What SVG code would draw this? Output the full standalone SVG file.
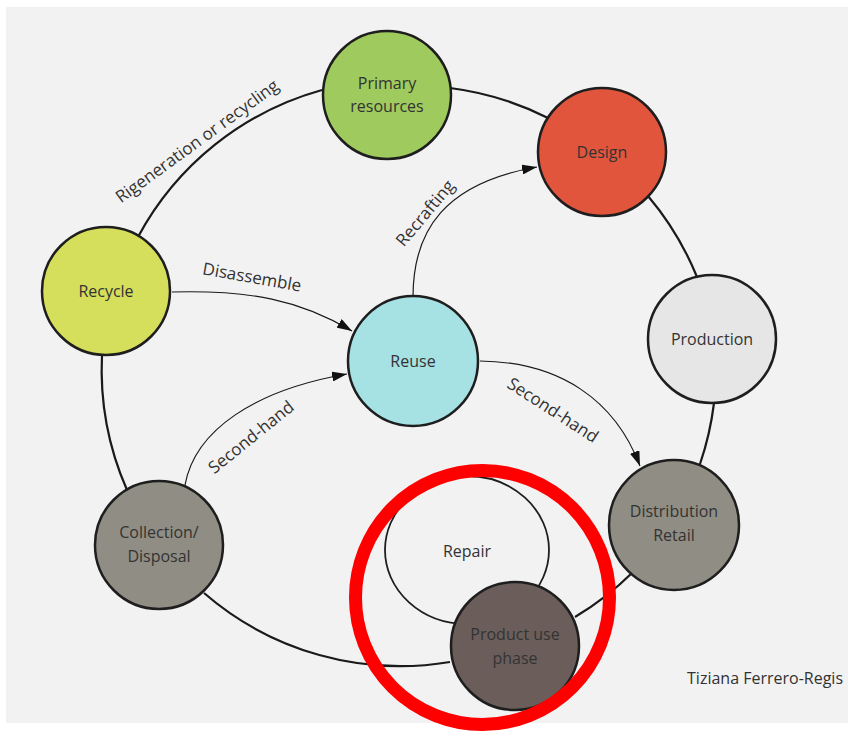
<svg xmlns="http://www.w3.org/2000/svg" width="848" height="736" viewBox="0 0 848 736">
<style>
.node{stroke:#1e1e1e;stroke-width:2.5}
.lbl{font-family:"Open Sans","Liberation Sans",sans-serif;font-size:16px;fill:#333;text-anchor:middle}
.elbl{font-family:"Open Sans","Liberation Sans",sans-serif;font-size:17px;fill:#333;text-anchor:middle}
.cyc{fill:none;stroke:#1a1a1a;stroke-width:2.2}
.arr{fill:none;stroke:#1a1a1a;stroke-width:1.2;marker-end:url(#ah)}
</style>
<defs>
<marker id="ah" markerUnits="userSpaceOnUse" markerWidth="16" markerHeight="10" refX="15" refY="5" orient="auto">
<path d="M0,0 L15,5 L0,10 z" fill="#111"/>
</marker>
</defs>
<rect width="848" height="736" fill="#ffffff"/>
<rect x="6" y="7" width="842" height="716" fill="#f2f2f2"/>
<g id="connectors">
<path class="cyc" d="M138,237 A300,300 0 0 1 322,90"/>
<path class="cyc" d="M450,88 A300,300 0 0 1 548,118"/>
<path class="cyc" d="M648,196 A300,300 0 0 1 697,277"/>
<path class="cyc" d="M714,403 A300,300 0 0 1 700,464"/>
<path class="cyc" d="M633,572 A300,300 0 0 1 575,617"/>
<path class="cyc" d="M450,662 A300,300 0 0 1 204,593"/>
<path class="cyc" d="M127,490 A300,300 0 0 1 102,355"/>
<path class="arr" d="M172,292 C250,290 300,300 352,331"/>
<path class="arr" d="M185,485 C195,430 255,390 347,374"/>
<path class="arr" d="M413,297 C413,230 445,183 537,167"/>
<path class="arr" d="M480,361 C560,362 615,400 640,466"/>
<text class="elbl" transform="translate(197,141) rotate(-36)" y="6">Rigeneration or recycling</text>
<text class="elbl" transform="translate(252,277) rotate(10)" y="6">Disassemble</text>
<text class="elbl" transform="translate(251,437) rotate(-39)" y="6">Second-hand</text>
<text class="elbl" transform="translate(425,213) rotate(-50)" y="6">Recrafting</text>
<text class="elbl" transform="translate(553,410) rotate(33)" y="6">Second-hand</text>
</g>
<g id="repair">
<ellipse cx="467" cy="550" rx="82" ry="74" fill="#f2f2f2" stroke="#1e1e1e" stroke-width="1.8"/>
<text class="lbl" x="467" y="557">Repair</text>
</g>
<g id="primary">
<circle class="node" cx="387" cy="95" r="64" fill="#9fca5e"/>
<text class="lbl" x="387" y="89">Primary</text>
<text class="lbl" x="387" y="112">resources</text>
</g>
<g id="design">
<circle class="node" cx="602" cy="152" r="64" fill="#e1553d"/>
<text class="lbl" x="602" y="158">Design</text>
</g>
<g id="recycle">
<circle class="node" cx="106" cy="291" r="64" fill="#d6df5b"/>
<text class="lbl" x="106" y="297">Recycle</text>
</g>
<g id="reuse">
<circle class="node" cx="413" cy="361" r="65" fill="#a6e1e3"/>
<text class="lbl" x="413" y="367">Reuse</text>
</g>
<g id="production">
<circle class="node" cx="712" cy="339" r="64" fill="#e6e6e6"/>
<text class="lbl" x="712" y="345">Production</text>
</g>
<g id="distribution">
<circle class="node" cx="674" cy="525" r="65" fill="#908d84"/>
<text class="lbl" x="674" y="517">Distribution</text>
<text class="lbl" x="674" y="541">Retail</text>
</g>
<g id="collection">
<circle class="node" cx="159" cy="545" r="64" fill="#908d84"/>
<text class="lbl" x="159" y="538">Collection/</text>
<text class="lbl" x="159" y="562">Disposal</text>
</g>
<g id="productuse">
<circle class="node" cx="515" cy="646" r="64" fill="#6b5e5a"/>
<text class="lbl" x="515" y="640">Product use</text>
<text class="lbl" x="515" y="664">phase</text>
</g>
<g id="highlight">
<circle cx="482.5" cy="597.5" r="127" fill="none" stroke="#ff0000" stroke-width="13"/>
</g>
<text x="843" y="684" style="font-family:'Open Sans','Liberation Sans',sans-serif;font-size:16px;fill:#333;text-anchor:end">Tiziana Ferrero-Regis</text>
</svg>
